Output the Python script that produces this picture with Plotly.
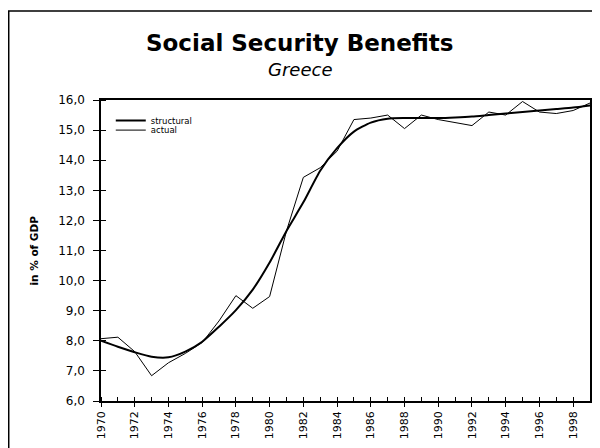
import plotly.graph_objects as go

# Greece, social security benefits in % of GDP
years = list(range(1970, 2000))
structural = [8.00, 7.80, 7.62, 7.47, 7.45, 7.64, 7.97, 8.47, 9.02, 9.70,
              10.60, 11.65, 12.60, 13.65, 14.40, 14.95, 15.25, 15.38, 15.40, 15.40,
              15.40, 15.42, 15.45, 15.50, 15.55, 15.60, 15.65, 15.70, 15.75, 15.82]
actual = [8.07, 8.12, 7.64, 6.84, 7.27, 7.58, 7.94, 8.66, 9.50, 9.08,
          9.47, 11.65, 13.43, 13.75, 14.30, 15.35, 15.40, 15.50, 15.05, 15.50,
          15.35, 15.25, 15.15, 15.60, 15.50, 15.95, 15.60, 15.55, 15.65, 15.90]
tick_labels = [str(y) if y % 2 == 0 else '' for y in years]

FONT = 'DejaVu Sans, sans-serif'

fig = go.Figure()
fig.add_trace(go.Scatter(x=years, y=structural, name='structural', mode='lines',
                         legend='legend',
                         line=dict(color='black', width=2, shape='spline', smoothing=0.6)))
fig.add_trace(go.Scatter(x=years, y=actual, name='actual', mode='lines',
                         legend='legend2',
                         line=dict(color='black', width=1)))

legend_style = dict(xanchor='left', yanchor='middle', bgcolor='rgba(0,0,0,0)',
                    font=dict(size=8.5), itemwidth=30)

# the page body adds 8px, so the figure is 592x440
fig.update_layout(
    width=592, height=440,
    margin=dict(l=93, r=10, t=92, b=47, autoexpand=False),
    paper_bgcolor='white', plot_bgcolor='white',
    separators=', ',
    font=dict(family=FONT, color='black'),
    showlegend=True,
    legend=dict(x=0.02, y=0.932, **legend_style),
    legend2=dict(x=0.02, y=0.900, **legend_style),
    xaxis=dict(range=[1970, 1999], tickvals=years, ticktext=tick_labels,
               tickangle=-90, ticks='outside', ticklen=4, tickcolor='black',
               tickfont=dict(size=11), showgrid=False, zeroline=False,
               automargin=False,
               showline=True, linecolor='black', linewidth=1.5, mirror=True,
               minor=dict(tickvals=years, ticks='inside', ticklen=4, tickcolor='black')),
    yaxis=dict(range=[6, 16], dtick=1, tickformat='.1f',
               ticks='outside', ticklen=6, tickcolor='black',
               tickfont=dict(size=12), showgrid=False, zeroline=False,
               automargin=False, ticklabelstandoff=6,
               showline=True, linecolor='black', linewidth=1.5, mirror=True,
               minor=dict(dtick=1, ticks='inside', ticklen=5, tickcolor='black')),
    shapes=[dict(type='rect', xref='paper', yref='paper',
                 x0=-0.1887, x1=1.10, y0=-0.25, y1=1.296,
                 line=dict(color='black', width=1.5), layer='below')],
    annotations=[
        dict(text='<b>Social Security Benefits</b>', xref='paper', yref='paper',
             x=0.407, y=1.189, xanchor='center', yanchor='middle',
             showarrow=False, font=dict(size=23)),
        dict(text='<i>Greece</i>', xref='paper', yref='paper',
             x=0.407, y=1.10, xanchor='center', yanchor='middle',
             showarrow=False, font=dict(size=18)),
        dict(text='<b>in % of GDP</b>', xref='paper', yref='paper',
             x=-0.139, y=0.5, xanchor='center', yanchor='middle', textangle=-90,
             showarrow=False, font=dict(size=10.5)),
    ],
)

fig.write_html("out.html")
